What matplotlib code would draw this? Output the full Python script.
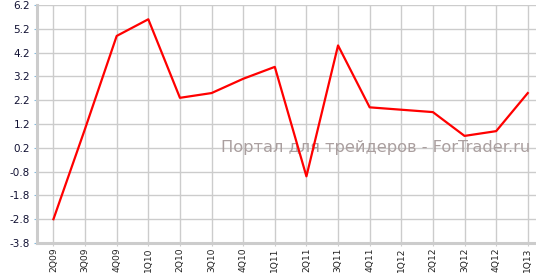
import matplotlib
matplotlib.use("Agg")
import matplotlib.pyplot as plt
import numpy as np

# ── Data ──
quarters = ["2Q09", "3Q09", "4Q09", "1Q10", "2Q10", "3Q10", "4Q10", "1Q11",
            "2Q11", "3Q11", "4Q11", "1Q12", "2Q12", "3Q12", "4Q12", "1Q13"]
values = [-2.8, 1.0, 4.9, 5.6, 2.3, 2.5, 3.1, 3.6,
          -1.0, 4.5, 1.9, 1.8, 1.7, 0.7, 0.9, 2.5]
y_ticks = [-3.8, -2.8, -1.8, -0.8, 0.2, 1.2, 2.2, 3.2, 4.2, 5.2, 6.2]
watermark = "Портал для трейдеров - ForTrader.ru"

fig = plt.figure(figsize=(5.36, 2.75), dpi=100)
ax = fig.add_axes([37 / 536, 32 / 275, 499 / 536, 238 / 275])

x = np.arange(len(quarters))
ax.plot(x, values, color="#ff0000", linewidth=1.6, zorder=3, clip_on=False)

ax.set_xlim(-0.52, 15.26)
ax.set_ylim(-3.8, 6.2)
ax.set_xticks(x)
ax.set_xticklabels(quarters, rotation=90, fontsize=6.6, color="#222222")
ax.set_yticks(y_ticks)
ax.set_yticklabels([f"{v:.1f}" for v in y_ticks], fontsize=7.5, color="#111133")

ax.grid(True, color="#cccccc", linewidth=1.0)
ax.set_axisbelow(True)
for side in ["top", "right"]:
    ax.spines[side].set_visible(False)
for side in ["left", "bottom"]:
    ax.spines[side].set_color("#cccccc")
    ax.spines[side].set_linewidth(2.2)
ax.tick_params(axis="x", length=2, color="#cccccc", pad=1)
ax.tick_params(axis="y", length=2, color="#88bbdd", pad=3)

ax.text(0.988, 0.40, watermark, transform=ax.transAxes, ha="right", va="center",
        fontsize=11.7, color="#aa9f9f", zorder=2)

fig.savefig("out.png", dpi=100)
